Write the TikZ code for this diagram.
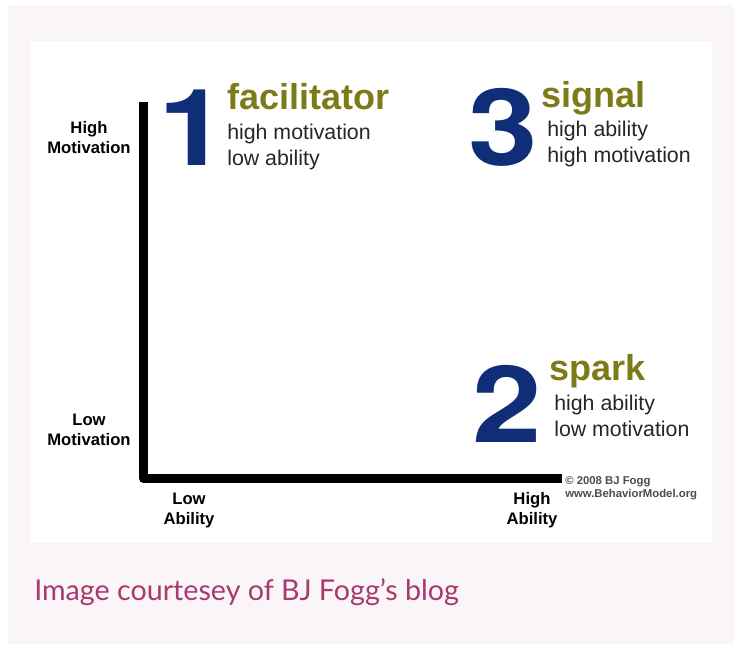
\documentclass[tikz,border=0pt]{standalone}
\usepackage{fontspec}
\setmainfont{Liberation Sans}
\newfontfamily\captionfont{Lato}
\newfontfamily\digitfont{TeX Gyre Heros}
\usetikzlibrary{positioning}

\definecolor{navy}{RGB}{16,46,120}
\definecolor{olive}{RGB}{125,122,24}
\definecolor{pinkbg}{RGB}{250,246,247}
\definecolor{berry}{RGB}{168,58,112}

\tikzset{
  bignum/.style={anchor=base west, inner sep=0pt, xscale=1.17, text=navy, font=\digitfont\fontsize{80}{80}\selectfont\bfseries},
  role/.style={anchor=base west, inner sep=0pt, text=olive, font=\fontsize{27}{27}\selectfont\bfseries},
  desc/.style={anchor=base west, inner sep=0pt, text=black!85, font=\fontsize{16}{19}\selectfont},
  axislabel/.style={inner sep=0pt, align=center, font=\fontsize{12.5}{15}\selectfont\bfseries},
  credit/.style={anchor=base west, inner sep=0pt, text=black!70, font=\fontsize{8.5}{9}\selectfont\bfseries},
}

\begin{document}
\begin{tikzpicture}[x=0.75pt,y=-0.75pt]
            \useasboundingbox (0,0) rectangle (739,644);
            \fill[pinkbg] (8,5) rectangle (734,644);
            \fill[white] (31,41) rectangle (712,543);

            % axes
            \coordinate (top) at (143.5,102);
            \coordinate (origin) at (143.5,478.5);
            \coordinate (right) at (562,478.5);
            \draw[line width=6.75pt, line join=round] (top) -- (origin) -- (right);

            % axis labels
            \node[axislabel] (hm) at (89,138) {High\\Motivation};
            \node[axislabel] (lm) at (89,430) {Low\\Motivation};
            \node[axislabel] (la) at (189,510) {Low\\Ability};
            \node[axislabel] (ha) at (532,510) {High\\Ability};

            % 1 facilitator
            \node[bignum] (num1) at (158,165) {1};
            \node[role] (facil) at (227,109) {facilitator};
            \node[desc] (facil1) at (227,139) {high motivation};
            \node[desc] (facil2) at (227,165.5) {low ability};

            % 3 signal
            \node[bignum] (num3) at (468,165) {3};
            \node[role] (signal) at (541,107) {signal};
            \node[desc] (signal1) at (547,136) {high ability};
            \node[desc] (signal2) at (547,162) {high motivation};

            % 2 spark
            \node[bignum] (num2) at (472,442) {2};
            \node[role] (spark) at (549,380) {spark};
            \node[desc] (spark1) at (554,410) {high ability};
            \node[desc] (spark2) at (554,436) {low motivation};

            \node[credit] (copy) at (565,484) {\textcopyright\ 2008 BJ Fogg};
            \node[credit] (web) at (565,497) {www.BehaviorModel.org};

            \node[anchor=base west, inner sep=0pt, text=berry, font=\captionfont\fontsize{21.5}{25}\selectfont] (caption) at (34,600) {Image courtesey of BJ Fogg’s blog};
        \end{tikzpicture}
\end{document}
